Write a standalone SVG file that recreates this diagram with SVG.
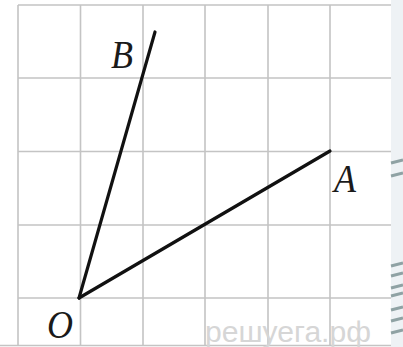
<svg xmlns="http://www.w3.org/2000/svg" width="403" height="347" viewBox="0 0 403 347">
<style>
.grid{stroke:#c4c4c4;stroke-width:1.6;fill:none}
.ray{stroke:#111;stroke-width:3.2;stroke-linecap:round;fill:none}
.lbl{font-family:"Liberation Serif","Times New Roman",serif;font-style:italic;font-size:39px;fill:#1a1a1a}
.dash{stroke:#8fa2a4;stroke-width:3}
.wm{font-family:"Liberation Sans",Arial,sans-serif;font-size:29px;fill:#d6d6d6}
</style>
<rect x="0" y="0" width="403" height="347" fill="#ffffff"/>
<rect x="391" y="0" width="12" height="347" fill="#eef2f5"/>
<g id="grid" class="grid">
<path d="M18 5V345M80.5 5V345M143 5V345M205 5V345M268 5V345M330 5V345"/>
<path d="M18 5H391M18 78H391M18 151.5H391M18 225H391M18 298H391M0 345.5H391"/>
</g>
<text class="wm" x="205" y="342" textLength="166" lengthAdjust="spacingAndGlyphs">решуега.рф</text>
<g id="connectors">
<line class="ray" x1="79" y1="298" x2="155" y2="32"/>
<line class="ray" x1="79" y1="298" x2="330" y2="151"/>
</g>
<g id="node-O"><text class="lbl" x="47" y="338" textLength="26" lengthAdjust="spacingAndGlyphs">O</text></g>
<g id="node-B"><text class="lbl" x="111" y="68" textLength="22" lengthAdjust="spacingAndGlyphs">B</text></g>
<g id="node-A"><text class="lbl" x="334" y="192" textLength="22" lengthAdjust="spacingAndGlyphs">A</text></g>
<g id="deco" class="dash">
<path d="M391 163L403 160M391 176L403 173"/>
<path d="M391 266L403 263M391 276L403 273M391 288L403 285M391 296L403 293M391 310L403 307M391 321L403 318M391 333L403 330"/>
</g>
</svg>
